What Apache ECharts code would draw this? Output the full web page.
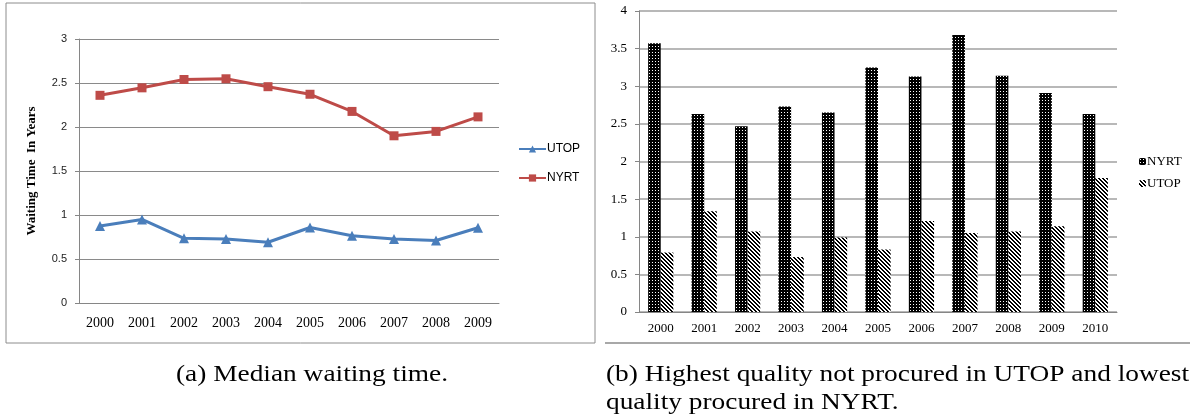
<!DOCTYPE html>
<html>
<head>
<meta charset="utf-8">
<title>Waiting time and quality</title>
<script src="https://cdn.jsdelivr.net/npm/echarts@6/dist/echarts.min.js"></script>
<style>
  html, body { margin: 0; padding: 0; background: #fff; }
  #main { width: 1190px; height: 417px; }
</style>
</head>
<body>
<div id="main"></div>
<script>
// (a) median waiting time, years
const waitYears = ['2000', '2001', '2002', '2003', '2004', '2005', '2006', '2007', '2008', '2009']
const waitUtop = [0.875, 0.95, 0.735, 0.728, 0.69, 0.858, 0.765, 0.728, 0.71, 0.855]
const waitNyrt = [2.36, 2.445, 2.54, 2.548, 2.458, 2.372, 2.177, 1.9, 1.95, 2.115]

// (b) highest quality not procured in UTOP / lowest quality procured in NYRT
const qualityYears = ['2000', '2001', '2002', '2003', '2004', '2005', '2006', '2007', '2008', '2009', '2010']
const qualityNyrt = [3.57, 2.63, 2.47, 2.73, 2.65, 3.25, 3.13, 3.68, 3.14, 2.91, 2.63]
const qualityUtop = [0.79, 1.34, 1.07, 0.73, 0.99, 0.83, 1.21, 1.05, 1.07, 1.14, 1.78]

const serif = '"Liberation Serif", "Times New Roman", serif'
const sans = '"Liberation Sans", Arial, sans-serif'

// black fill with white dots
function dotPattern () {
  let c = document.createElement('canvas')
  c.width = 3
  c.height = 3
  let ctx = c.getContext('2d')
  ctx.fillStyle = '#000'
  ctx.fillRect(0, 0, 3, 3)
  ctx.fillStyle = '#fff'
  ctx.fillRect(1, 1, 1, 1)
  return c
}

// white fill with "\" stripes
function stripePattern () {
  let n = 4
  let c = document.createElement('canvas')
  c.width = n
  c.height = n
  let ctx = c.getContext('2d')
  ctx.fillStyle = '#fff'
  ctx.fillRect(0, 0, n, n)
  ctx.fillStyle = '#000'
  for (let y = 0; y < n; y++) {
    for (let x = 0; x < n; x++) {
      if ((x - y + n * 2) % n < 2) ctx.fillRect(x, y, 1, 1)
    }
  }
  return c
}

const dots = { image: dotPattern(), repeat: 'repeat' }
const stripes = { image: stripePattern(), repeat: 'repeat' }

// caption text, stretched a little to the width of the LaTeX font
function caption (text, x, y, align) {
  return {
    type: 'text',
    x: x,
    y: y,
    scaleX: 1.14,
    style: { text: text, font: '24px ' + serif, fill: '#000', textAlign: align, textVerticalAlign: 'middle' }
  }
}

let chart = echarts.init(document.getElementById('main'))
chart.setOption({
  animation: false,
  backgroundColor: '#fff',
  grid: [
    { left: 79, top: 39, width: 420, height: 264 },
    { left: 639, top: 11, width: 478, height: 301 }
  ],
  legend: [
    {
      orient: 'vertical',
      left: 513,
      top: 138,
      itemWidth: 27,
      itemHeight: 9,
      itemGap: 17,
      data: ['UTOP', 'NYRT'],
      textStyle: { fontFamily: sans, fontSize: 12, color: '#000', padding: [0, 0, 0, -4] }
    },
    {
      orient: 'vertical',
      left: 1134,
      top: 150,
      itemWidth: 7,
      itemHeight: 7,
      itemGap: 9,
      data: ['NYRT ', 'UTOP '],
      textStyle: { fontFamily: serif, fontSize: 13, color: '#000', padding: [0, 0, 0, -4] }
    }
  ],
  xAxis: [
    {
      gridIndex: 0,
      type: 'category',
      data: waitYears,
      axisLine: { lineStyle: { color: '#868686' } },
      axisTick: { length: 5, lineStyle: { color: '#868686' } },
      axisLabel: { fontFamily: serif, fontSize: 14, color: '#000', margin: 13 }
    },
    {
      gridIndex: 1,
      type: 'category',
      data: qualityYears,
      axisLine: { lineStyle: { color: '#868686' } },
      axisTick: { length: 5, lineStyle: { color: '#868686' } },
      axisLabel: { fontFamily: serif, fontSize: 13, color: '#000', margin: 10 }
    }
  ],
  yAxis: [
    {
      gridIndex: 0,
      type: 'value',
      min: 0,
      max: 3,
      interval: 0.5,
      name: 'Waiting Time  In Years',
      nameLocation: 'middle',
      nameGap: 41,
      nameTextStyle: { fontFamily: serif, fontSize: 13, fontWeight: 'bold', color: '#000' },
      axisLine: { show: true, lineStyle: { color: '#868686' } },
      axisTick: { show: true, length: 4, lineStyle: { color: '#868686' } },
      axisLabel: { fontFamily: sans, fontSize: 11, color: '#222', margin: 12 },
      splitLine: { lineStyle: { color: '#8a8a8a' } }
    },
    {
      gridIndex: 1,
      type: 'value',
      min: 0,
      max: 4,
      interval: 0.5,
      axisLine: { show: true, lineStyle: { color: '#868686' } },
      axisTick: { show: true, length: 4, lineStyle: { color: '#868686' } },
      axisLabel: { fontFamily: serif, fontSize: 13, color: '#000', margin: 12 },
      splitLine: { lineStyle: { color: '#a0a0a0', width: 1.5 } }
    }
  ],
  series: [
    {
      name: 'UTOP',
      type: 'line',
      xAxisIndex: 0,
      yAxisIndex: 0,
      data: waitUtop,
      symbol: 'triangle',
      symbolSize: 10,
      color: '#4a7ebb',
      lineStyle: { width: 3 }
    },
    {
      name: 'NYRT',
      type: 'line',
      xAxisIndex: 0,
      yAxisIndex: 0,
      data: waitNyrt,
      symbol: 'rect',
      symbolSize: 9,
      color: '#be4b48',
      lineStyle: { width: 3 }
    },
    {
      name: 'NYRT ',
      type: 'bar',
      xAxisIndex: 1,
      yAxisIndex: 1,
      data: qualityNyrt,
      barGap: '0%',
      barCategoryGap: '42%',
      itemStyle: { color: dots }
    },
    {
      name: 'UTOP ',
      type: 'bar',
      xAxisIndex: 1,
      yAxisIndex: 1,
      data: qualityUtop,
      itemStyle: { color: stripes }
    }
  ],
  graphic: [
    // frame round the left chart
    {
      type: 'rect',
      shape: { x: 6, y: 3, width: 589, height: 340 },
      style: { fill: null, stroke: '#8c8c8c', lineWidth: 1 }
    },
    // bottom rule under the right chart
    {
      type: 'line',
      shape: { x1: 605, y1: 343, x2: 1190, y2: 343 },
      style: { stroke: '#a8a8a8', lineWidth: 2 }
    },
    caption('(a) Median waiting time.', 312, 375, 'center'),
    caption('(b) Highest quality not procured in UTOP and lowest', 606, 375, 'left'),
    caption('quality procured in NYRT.', 606, 403, 'left')
  ]
})
</script>
</body>
</html>
